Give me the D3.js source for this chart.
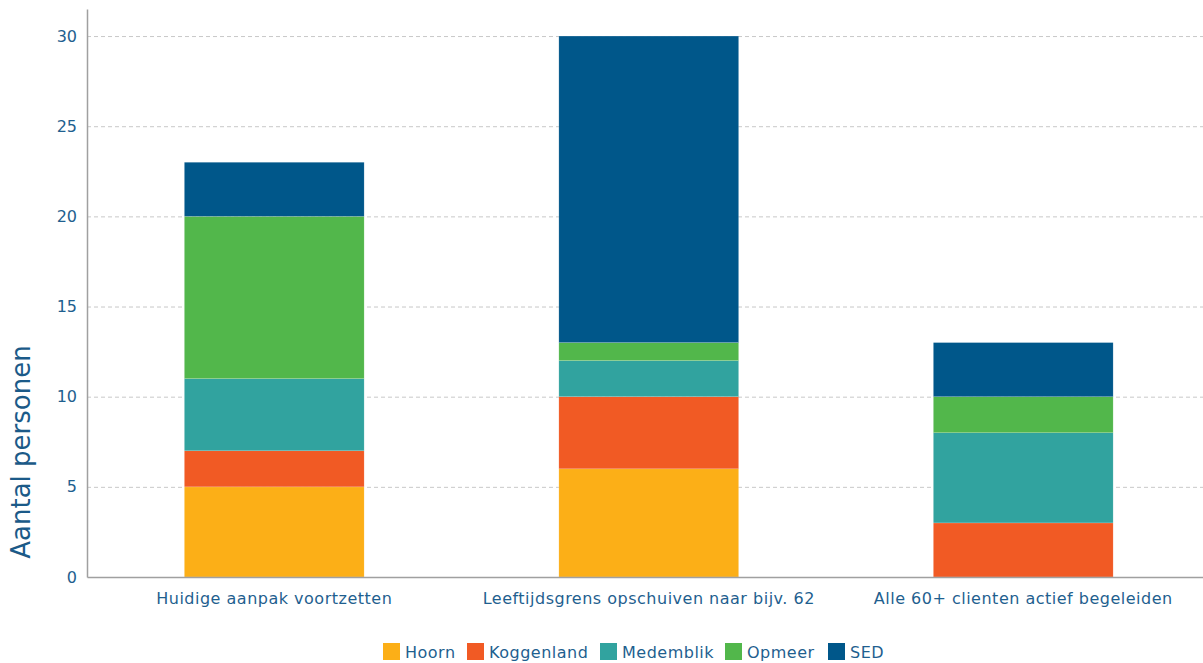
<!DOCTYPE html>
<html>
<head>
<meta charset="utf-8">
<script src="https://cdn.jsdelivr.net/npm/d3@7"></script>
<style>
  body { margin: 0; background: #fff; }
  text { font-family: "DejaVu Sans", Verdana, sans-serif; }
</style>
</head>
<body>
<div id="chart"></div>
<script>
var categories = ["Huidige aanpak voortzetten", "Leeftijdsgrens opschuiven naar bijv. 62", "Alle 60+ clienten actief begeleiden"];
var series = ["Hoorn", "Koggenland", "Medemblik", "Opmeer", "SED"];
var hoorn      = [5, 6, 0];
var koggenland = [2, 4, 3];
var medemblik  = [4, 2, 5];
var opmeer     = [9, 1, 2];
var sed        = [3, 17, 3];
var colors = ["#fcaf17", "#f15a24", "#31a39f", "#52b74b", "#00578a"];
var yTicks = [0, 5, 10, 15, 20, 25, 30];

var width = 1203, height = 663;
var margin = { left: 87, top: 9, bottom: 86 };
var textColor = "#1f5f8f";

var svg = d3.select("#chart").append("svg")
  .attr("width", width)
  .attr("height", height);

var rows = categories.map(function(c, i) {
  return { cat: c, Hoorn: hoorn[i], Koggenland: koggenland[i], Medemblik: medemblik[i], Opmeer: opmeer[i], SED: sed[i] };
});

var stacked = d3.stack().keys(series)(rows);

var x = d3.scaleBand()
  .domain(categories)
  .range([margin.left, 1210.5])
  .paddingInner(0.52)
  .paddingOuter(0.26);

var y = d3.scaleLinear()
  .domain([0, 31.5])
  .range([height - margin.bottom, margin.top]);

var color = d3.scaleOrdinal().domain(series).range(colors);

// gridlines
svg.append("g")
  .selectAll("line")
  .data(yTicks.filter(function(d) { return d > 0; }))
  .enter().append("line")
  .attr("x1", margin.left)
  .attr("x2", width)
  .attr("y1", function(d) { return y(d) + 0.5; })
  .attr("y2", function(d) { return y(d) + 0.5; })
  .style("stroke", "#c8c8c8")
  .style("stroke-dasharray", "4,3");

// bars
svg.append("g")
  .selectAll("g")
  .data(stacked)
  .enter().append("g")
  .style("fill", function(d) { return color(d.key); })
  .selectAll("rect")
  .data(function(d) { return d; })
  .enter().append("rect")
  .attr("x", function(d) { return x(d.data.cat); })
  .attr("width", x.bandwidth())
  .attr("y", function(d) { return y(d[1]); })
  .attr("height", function(d) { return y(d[0]) - y(d[1]); })
  .style("stroke", "rgba(255,255,255,0.3)")
  .style("stroke-width", 0.5);

// axes
var yAxis = svg.append("g")
  .attr("transform", "translate(" + margin.left + ",0)")
  .call(d3.axisLeft(y).tickValues(yTicks).tickSize(0).tickPadding(10));

var xAxis = svg.append("g")
  .attr("transform", "translate(0," + (height - margin.bottom) + ")")
  .call(d3.axisBottom(x).tickSize(0).tickPadding(16));

yAxis.select(".domain").style("stroke", "#a0a0a0").style("stroke-width", 1.5);
xAxis.select(".domain").style("stroke", "#a0a0a0").style("stroke-width", 1.5);

svg.selectAll(".tick text")
  .style("font-family", "'DejaVu Sans', Verdana, sans-serif")
  .style("font-size", "16px")
  .style("fill", textColor);

xAxis.selectAll(".tick text").style("letter-spacing", "0.5px");

// y title
svg.append("text")
  .attr("transform", "translate(30,452) rotate(-90)")
  .attr("text-anchor", "middle")
  .style("font-size", "26px")
  .style("fill", "#1b5a88")
  .text("Aantal personen");

// legend
var legendX = [383, 467, 600, 725, 828];
var legend = svg.append("g")
  .selectAll("g")
  .data(series)
  .enter().append("g")
  .attr("transform", function(d, i) { return "translate(" + legendX[i] + ",643)"; });

legend.append("rect")
  .attr("width", 17)
  .attr("height", 17)
  .style("fill", function(d) { return color(d); });

legend.append("text")
  .attr("x", 22)
  .attr("y", 15)
  .style("font-size", "16px")
  .style("letter-spacing", "0.5px")
  .style("fill", textColor)
  .text(function(d) { return d; });
</script>
</body>
</html>
